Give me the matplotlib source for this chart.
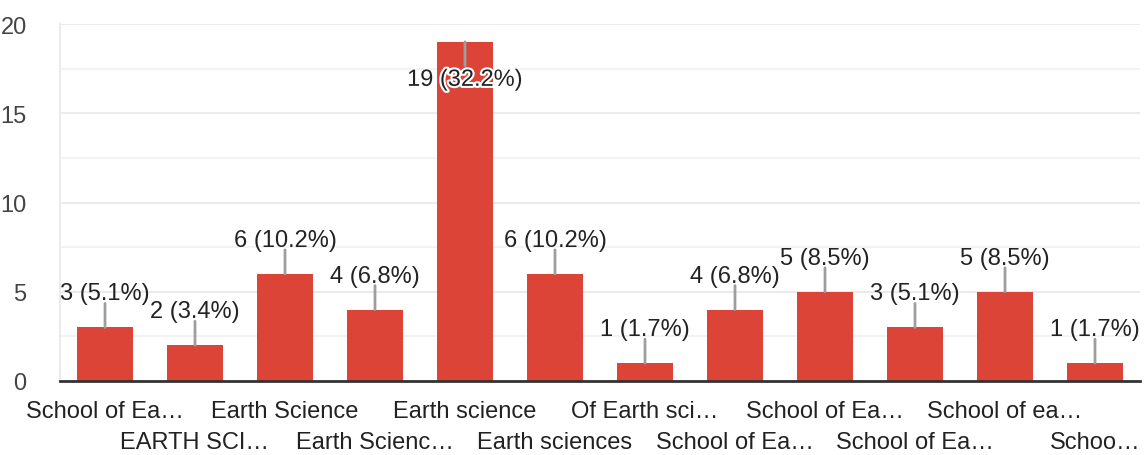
import matplotlib
matplotlib.use("Agg")
import matplotlib.pyplot as plt
import matplotlib.patheffects as pe
from matplotlib.ticker import MultipleLocator

categories = ["School of Ea…", "EARTH SCI…", "Earth Science", "Earth Scienc…",
              "Earth science", "Earth sciences", "Of Earth sci…", "School of Ea…",
              "School of Ea…", "School of Ea…", "School of ea…", "Schoo…"]
values = [3, 2, 6, 4, 19, 6, 1, 4, 5, 3, 5, 1]
percents = ["5.1%", "3.4%", "10.2%", "6.8%", "32.2%", "10.2%", "1.7%",
            "6.8%", "8.5%", "5.1%", "8.5%", "1.7%"]
yticks = [0, 5, 10, 15, 20]

plt.rcParams['font.family'] = ['Liberation Sans', 'DejaVu Sans']
FS = 17

fig = plt.figure(figsize=(11.47, 4.56), dpi=100)
ax = fig.add_axes([60/1147, (456-382)/456, (1140-60)/1147, (382-25)/456])

x = list(range(len(values)))
ax.bar(x, values, width=0.63, color="#db4437", zorder=3)
ax.set_xlim(-0.5, len(values) - 0.5)
ax.set_ylim(0, 20)

ax.yaxis.set_major_locator(MultipleLocator(5))
ax.yaxis.set_minor_locator(MultipleLocator(2.5))
ax.set_yticks(yticks)
ax.set_yticklabels([str(t) for t in yticks])
ax.grid(axis='y', which='major', color="#ebebeb", lw=1.5, zorder=0)
ax.grid(axis='y', which='minor', color="#f3f3f3", lw=1.5, zorder=0)
ax.tick_params(axis='y', which='both', length=0, pad=24, labelsize=FS, labelcolor="#444444")
ax.tick_params(axis='x', length=0)

for s in ['top', 'right']:
    ax.spines[s].set_visible(False)
ax.spines['left'].set_color("#ebebeb")
ax.spines['left'].set_linewidth(1.5)
ax.spines['bottom'].set_color("#333333")
ax.spines['bottom'].set_linewidth(2)
ax.spines['bottom'].set_zorder(4)

ax.set_xticks(x)
ax.set_xticklabels([])
for i, lab in enumerate(categories):
    off = -30 if i % 2 == 0 else -61
    ax.annotate(lab, xy=(i, 0), xytext=(0, off), textcoords='offset pixels',
                ha='center', va='center', fontsize=FS, color="#222222",
                annotation_clip=False)

for i, (v, p) in enumerate(zip(values, percents)):
    label = f"{v} ({p})"
    inside = v >= 18
    sign = -1 if inside else 1
    # leader line
    ax.annotate("", xy=(i, v), xytext=(0, sign * 24), textcoords='offset pixels',
                arrowprops=dict(arrowstyle='-', color="#9e9e9e", lw=2,
                                shrinkA=0, shrinkB=0),
                zorder=5, annotation_clip=False)
    ax.annotate(label, xy=(i, v), xytext=(0, sign * (38 if inside else 34)),
                textcoords='offset pixels',
                ha='center', va='center', fontsize=FS, color="#222222", zorder=6,
                path_effects=[pe.withStroke(linewidth=3, foreground='white')] if inside else None,
                annotation_clip=False)

fig.savefig("out.png", dpi=100)
